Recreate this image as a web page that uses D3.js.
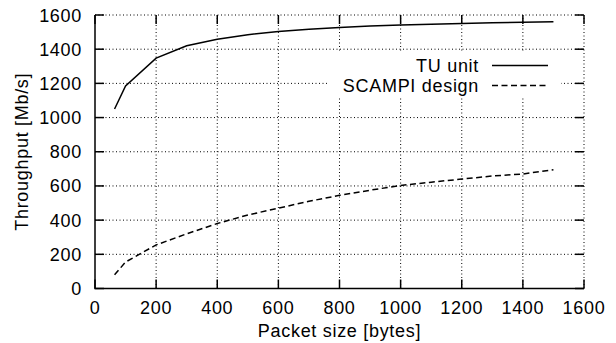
<!DOCTYPE html>
<html>
<head>
<meta charset="utf-8">
<script src="https://cdn.jsdelivr.net/npm/d3@7"></script>
<style>
  body { margin: 0; background: #fff; }
  text { font-family: "Liberation Sans", Arial, Helvetica, sans-serif; fill: #000; letter-spacing: 0.7px; }
</style>
</head>
<body>
<div class="canvas"></div>
<script>
// Config
var width = 616,
    height = 343,
    margin = {left: 95, right: 32, top: 15, bottom: 54.5},
    fontSize = 18;

// Data
var packetSizes = [64, 100, 200, 300, 400, 500, 600, 700, 800, 900, 1000, 1100, 1200, 1300, 1400, 1500];
var tuUnit = [1050, 1185, 1348, 1420, 1458, 1485, 1503, 1517, 1527, 1535, 1541, 1546, 1550, 1554, 1557, 1560];
var scampi = [80, 155, 255, 320, 380, 430, 470, 510, 545, 575, 603, 622, 640, 658, 670, 695];
var xTicks = [0, 200, 400, 600, 800, 1000, 1200, 1400, 1600];
var yTicks = [0, 200, 400, 600, 800, 1000, 1200, 1400, 1600];
var seriesNames = ['TU unit', 'SCAMPI design'];
var seriesDash = [null, '6,3.5'];

var x = d3.scaleLinear().domain([0, 1600]).range([margin.left, width - margin.right]);
var y = d3.scaleLinear().domain([0, 1600]).range([height - margin.bottom, margin.top]);

var svg = d3.select('.canvas').append('svg')
    .attr('width', width)
    .attr('height', height);

// Grid (dotted, also forms top and right border)
var grid = svg.append('g').attr('stroke', '#000').attr('stroke-width', 1).attr('stroke-dasharray', '1,2.5');
grid.selectAll('.gx').data(xTicks.slice(1)).enter().append('line')
    .attr('x1', function (d) {return x(d)}).attr('x2', function (d) {return x(d)})
    .attr('y1', y(0)).attr('y2', y(1600));
grid.selectAll('.gy').data(yTicks.slice(1)).enter().append('line')
    .attr('x1', x(0)).attr('x2', x(1600))
    .attr('y1', function (d) {return y(d)}).attr('y2', function (d) {return y(d)});

// Legend background hides the grid
svg.append('rect')
    .attr('x', 327).attr('y', 52).attr('width', 234).attr('height', 44)
    .attr('fill', '#fff');

// Ticks on all four sides, pointing inward
var tickLen = 9;
var ticks = svg.append('g').attr('stroke', '#000').attr('stroke-width', 1.5);
xTicks.forEach(function (d) {
    ticks.append('line').attr('x1', x(d)).attr('x2', x(d)).attr('y1', y(0)).attr('y2', y(0) - tickLen);
    ticks.append('line').attr('x1', x(d)).attr('x2', x(d)).attr('y1', y(1600)).attr('y2', y(1600) + tickLen);
});
yTicks.forEach(function (d) {
    ticks.append('line').attr('x1', x(0)).attr('x2', x(0) + tickLen).attr('y1', y(d)).attr('y2', y(d));
    ticks.append('line').attr('x1', x(1600)).attr('x2', x(1600) - tickLen).attr('y1', y(d)).attr('y2', y(d));
});

// Solid left and bottom axes
svg.append('path')
    .attr('d', 'M' + x(0) + ',' + y(1600) + 'V' + y(0) + 'H' + x(1600))
    .attr('fill', 'none').attr('stroke', '#000').attr('stroke-width', 1.5);

// Tick labels
svg.selectAll('.xl').data(xTicks).enter().append('text')
    .attr('x', function (d) {return x(d)})
    .attr('y', y(0) + 25)
    .attr('text-anchor', 'middle')
    .style('font-size', fontSize + 'px')
    .text(function (d) {return d});
svg.selectAll('.yl').data(yTicks).enter().append('text')
    .attr('x', x(0) - 13)
    .attr('y', function (d) {return y(d) + 6.5})
    .attr('text-anchor', 'end')
    .style('font-size', fontSize + 'px')
    .text(function (d) {return d});

// Axis titles
svg.append('text')
    .attr('x', x(800)).attr('y', 337)
    .attr('text-anchor', 'middle')
    .style('font-size', fontSize + 'px')
    .text('Packet size [bytes]');
svg.append('text')
    .attr('transform', 'translate(28,' + ((y(0) + y(1600)) / 2) + ') rotate(-90)')
    .attr('text-anchor', 'middle')
    .style('font-size', fontSize + 'px')
    .text('Throughput [Mb/s]');

// Lines
var line = d3.line()
    .x(function (d) {return x(d[0])})
    .y(function (d) {return y(d[1])});
[tuUnit, scampi].forEach(function (vals, i) {
    svg.append('path')
        .attr('d', line(d3.zip(packetSizes, vals)))
        .attr('fill', 'none')
        .attr('stroke', '#000')
        .attr('stroke-width', 1.5)
        .attr('stroke-dasharray', seriesDash[i]);
});

// Legend
seriesNames.forEach(function (name, i) {
    var ly = 65.5 + i * 20;
    svg.append('text')
        .attr('x', 479).attr('y', ly + 6.5)
        .attr('text-anchor', 'end')
        .style('font-size', fontSize + 'px')
        .text(name);
    svg.append('line')
        .attr('x1', 492).attr('x2', 548).attr('y1', ly).attr('y2', ly)
        .attr('stroke', '#000').attr('stroke-width', 1.5)
        .attr('stroke-dasharray', seriesDash[i]);
});
</script>
</body>
</html>
